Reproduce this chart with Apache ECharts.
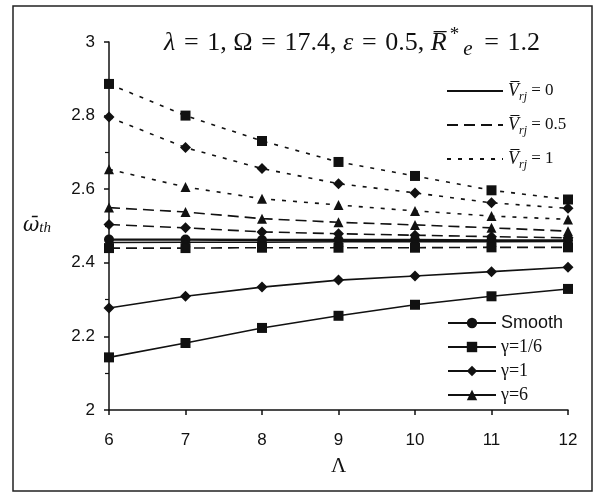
<!DOCTYPE html>
<html>
<head>
<meta charset="utf-8">
<script src="https://cdn.jsdelivr.net/npm/echarts@6/dist/echarts.min.js"></script>
<style>
    html, body { margin: 0; padding: 0; background: #fff; }
    #main { width: 595px; height: 493px; }
</style>
</head>
<body>
<div id="main"></div>
<script>
    // Λ values on the x axis
    var lambdaVals = [6, 7, 8, 9, 10, 11, 12];
    var yTicks = [2, 2.2, 2.4, 2.6, 2.8, 3];

    // smooth bearing
    var smooth = [2.463, 2.463, 2.462, 2.462, 2.462, 2.461, 2.461];
    // V_rj = 0
    var sq0 = [2.143, 2.182, 2.223, 2.256, 2.286, 2.309, 2.329];
    var di0 = [2.277, 2.309, 2.334, 2.353, 2.364, 2.376, 2.388];
    var tr0 = [2.455, 2.456, 2.456, 2.457, 2.457, 2.457, 2.458];
    // V_rj = 0.5
    var sq05 = [2.440, 2.440, 2.441, 2.441, 2.441, 2.442, 2.442];
    var di05 = [2.504, 2.495, 2.484, 2.479, 2.475, 2.471, 2.468];
    var tr05 = [2.550, 2.538, 2.520, 2.510, 2.503, 2.495, 2.486];
    // V_rj = 1
    var sq1 = [2.886, 2.800, 2.731, 2.674, 2.636, 2.597, 2.572];
    var di1 = [2.796, 2.713, 2.656, 2.615, 2.590, 2.563, 2.548];
    var tr1 = [2.654, 2.606, 2.574, 2.557, 2.541, 2.527, 2.518];

    var ink = '#111';
    var serif = '"Liberation Serif", "DejaVu Serif", serif';
    var sans = '"Liberation Sans", Arial, sans-serif';

    var dashMid = [11, 6];
    var dashShort = [4, 7];
    var eq = '\u2004=\u2004';

    function pairs(vals) {
        var out = [];
        for (var i = 0; i < lambdaVals.length; i++) {
            out.push([lambdaVals[i], vals[i]]);
        }
        return out;
    }

    function curve(name, vals, symbol, dash, width) {
        return {
            name: name,
            type: 'line',
            data: pairs(vals),
            symbol: symbol,
            symbolSize: symbol === 'diamond' ? 11 : 10,
            lineStyle: { color: ink, width: width || 1.6, type: dash },
            itemStyle: { color: ink },
            silent: true,
            z: 3
        };
    }

    function dummy(name, symbol, dash) {
        return {
            name: name,
            type: 'line',
            data: [],
            symbol: symbol,
            lineStyle: { color: ink, width: 1.6, type: dash },
            itemStyle: { color: ink }
        };
    }

    var myChart = echarts.init(document.getElementById('main'));
    var option = {
        backgroundColor: '#fff',
        animation: false,
        title: {
            text: '{i|λ}' + eq + '1, Ω' + eq + '17.4, {i|ε}' + eq + '0.5, {i|R\u0305}{sup|*}{sub|e}' + eq + '1.2',
            left: 164,
            top: 26,
            padding: 0,
            textStyle: {
                fontFamily: serif,
                fontSize: 26,
                fontWeight: 'normal',
                color: ink,
                lineHeight: 34,
                rich: {
                    i: { fontFamily: serif, fontStyle: 'italic', fontSize: 26, color: ink },
                    sup: { fontFamily: serif, fontSize: 19, color: ink, verticalAlign: 'top', lineHeight: 34, padding: [0, 4, 0, 3] },
                    sub: { fontFamily: serif, fontStyle: 'italic', fontSize: 21, color: ink, verticalAlign: 'bottom', lineHeight: 30, padding: [0, 3, 0, 0] }
                }
            }
        },
        grid: { left: 109, right: 27, top: 42, bottom: 83 },
        xAxis: {
            type: 'value',
            min: 6,
            max: 12,
            interval: 1,
            name: 'Λ',
            nameLocation: 'middle',
            nameGap: 46,
            nameTextStyle: { fontFamily: serif, fontSize: 21, color: ink },
            axisLine: { lineStyle: { color: ink, width: 1.5 } },
            axisTick: { show: true, length: 5, lineStyle: { color: ink, width: 1.5 } },
            axisLabel: { margin: 22, fontFamily: sans, fontSize: 17, color: ink },
            splitLine: { show: false }
        },
        yAxis: {
            type: 'value',
            min: 2,
            max: 3,
            interval: 0.2,
            name: '{w|ω\u0304}{s|th}',
            nameLocation: 'middle',
            nameRotate: 0,
            nameGap: 58,
            nameTextStyle: {
                rich: {
                    w: { fontFamily: '"DejaVu Serif", serif', fontStyle: 'italic', fontSize: 20, color: ink },
                    s: { fontFamily: serif, fontStyle: 'italic', fontSize: 15, color: ink, verticalAlign: 'bottom', lineHeight: 18 }
                }
            },
            axisLine: { show: true, lineStyle: { color: ink, width: 1.5 } },
            axisTick: { show: true, length: 5, lineStyle: { color: ink, width: 1.5 } },
            minorTick: { show: true, splitNumber: 2, length: 4, lineStyle: { color: ink, width: 1.2 } },
            axisLabel: {
                margin: 14, fontFamily: sans, fontSize: 17, color: ink,
                formatter: function (v) {
                    for (var i = 0; i < yTicks.length; i++) {
                        if (Math.abs(yTicks[i] - v) < 1e-6) return String(yTicks[i]);
                    }
                    return '';
                }
            },
            splitLine: { show: false }
        },
        legend: [
            {
                data: [
                    { name: 'V0', itemStyle: { opacity: 0 } },
                    { name: 'V05', itemStyle: { opacity: 0 } },
                    { name: 'V1', itemStyle: { opacity: 0 } }
                ],
                orient: 'vertical',
                left: 446,
                top: 79,
                padding: 0,
                itemWidth: 56,
                itemHeight: 14,
                itemGap: 10,
                selectedMode: false,
                formatter: function (name) {
                    var v = { V0: '0', V05: '0.5', V1: '1' }[name];
                    return '{v|V\u0305}{r|rj}{t| = ' + v + '}';
                },
                textStyle: {
                    lineHeight: 24,
                    rich: {
                        v: { fontFamily: serif, fontStyle: 'italic', fontSize: 18, color: ink, lineHeight: 24 },
                        r: { fontFamily: serif, fontStyle: 'italic', fontSize: 12, color: ink, verticalAlign: 'bottom', lineHeight: 18 },
                        t: { fontFamily: serif, fontSize: 17, color: ink, lineHeight: 24 }
                    }
                }
            },
            {
                data: ['Smooth', 'γ=1/6', 'γ=1', 'γ=6'],
                orient: 'vertical',
                left: 447,
                top: 314,
                padding: 0,
                itemWidth: 48,
                itemHeight: 13,
                itemGap: 6,
                selectedMode: false,
                formatter: function (name) {
                    return name === 'Smooth' ? '{s|' + name + '}' : '{g|' + name + '}';
                },
                textStyle: {
                    rich: {
                        s: { fontFamily: sans, fontSize: 18, color: ink },
                        g: { fontFamily: serif, fontSize: 18, color: ink }
                    }
                }
            }
        ],
        graphic: [
            {
                type: 'rect',
                shape: { x: 13, y: 6, width: 579, height: 485 },
                style: { fill: 'none', stroke: '#222', lineWidth: 1.5 },
                silent: true
            }
        ],
        series: [
            curve('smooth', smooth, 'circle', 'solid', 2.4),
            curve('sq0', sq0, 'rect', 'solid'),
            curve('di0', di0, 'diamond', 'solid'),
            curve('tr0', tr0, 'triangle', 'solid'),
            curve('sq05', sq05, 'rect', dashMid),
            curve('di05', di05, 'diamond', dashMid),
            curve('tr05', tr05, 'triangle', dashMid),
            curve('sq1', sq1, 'rect', dashShort),
            curve('di1', di1, 'diamond', dashShort),
            curve('tr1', tr1, 'triangle', dashShort),
            dummy('V0', 'none', 'solid'),
            dummy('V05', 'none', dashMid),
            dummy('V1', 'none', dashShort),
            dummy('Smooth', 'circle', 'solid'),
            dummy('γ=1/6', 'rect', 'solid'),
            dummy('γ=1', 'diamond', 'solid'),
            dummy('γ=6', 'triangle', 'solid')
        ]
    };
    myChart.setOption(option);
</script>
</body>
</html>
